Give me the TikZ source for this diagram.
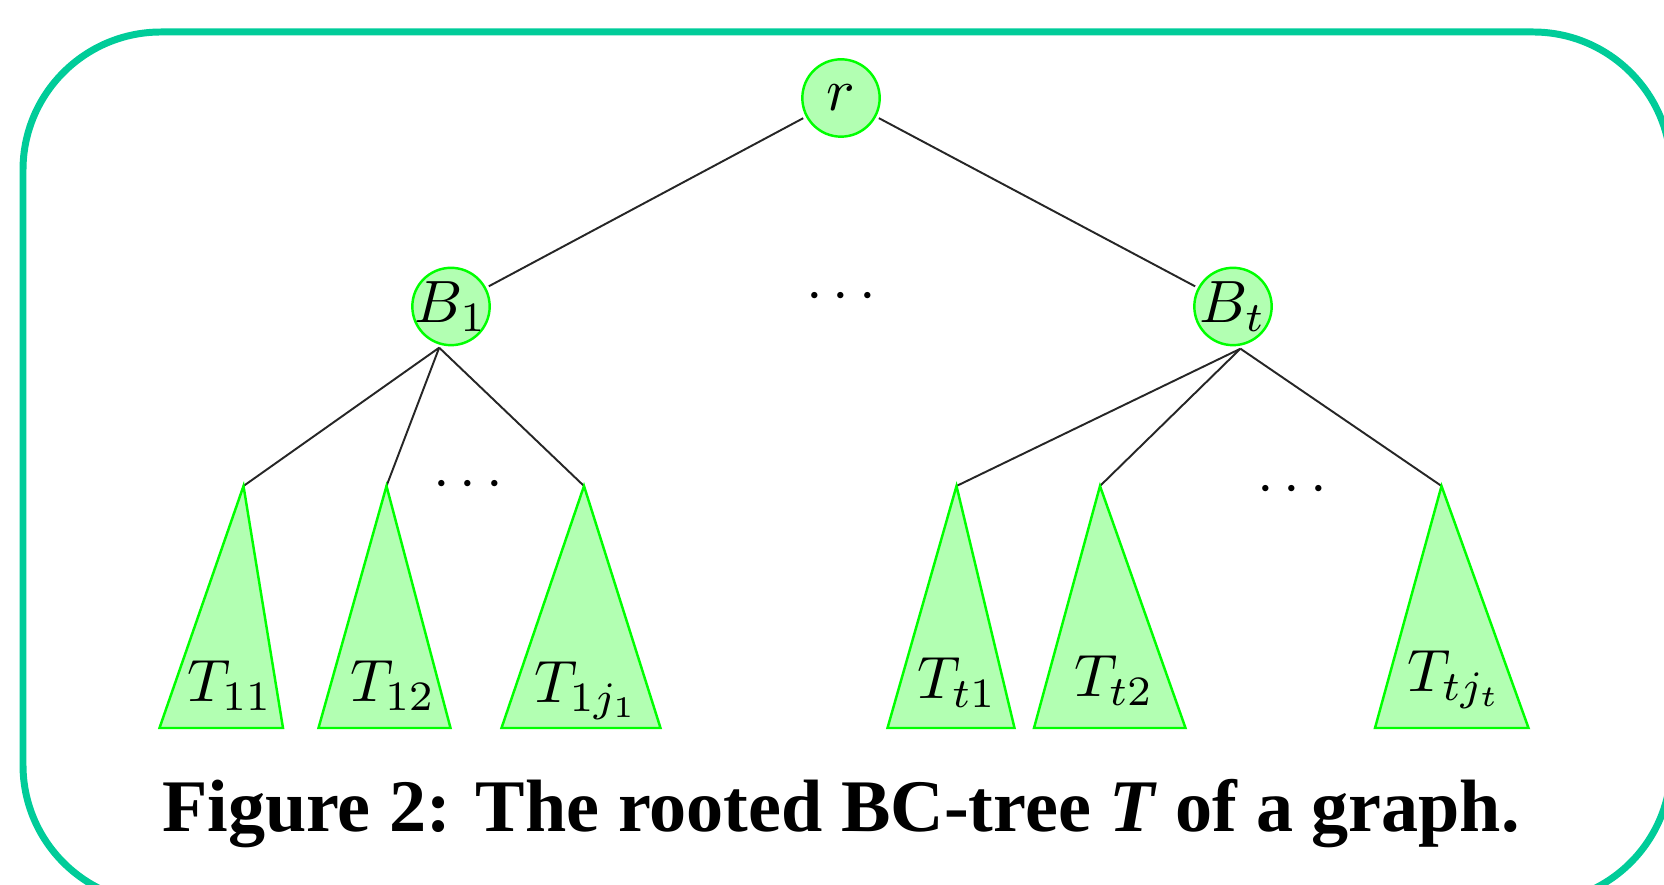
\documentclass[tikz,border=0pt]{standalone}
\usepackage{amsmath,amssymb}
\usepackage{fontspec}
\newfontfamily\capfont{Liberation Serif}
\definecolor{framegreen}{RGB}{0,204,153}
\tikzset{
	bcnode/.style={draw=green, fill=green!30, circle, line width=1.4pt, minimum size=0.455cm, inner sep=-0.9pt, scale=3.4},
	subtree/.style={draw=green, fill=green!30, line width=1.4pt},
	treelabel/.style={anchor=base, scale=3.4},
	treeedge/.style={line width=1.1pt, black!85},
}

\begin{document}
\begin{tikzpicture}
					\clip (0,0) rectangle (33.28,17.7);
					%frame
					\draw [framegreen, line width=3.97pt, rounded corners=2.76cm] (0.46,-0.36) rectangle (33.42,17.06);
					
					%root and blocks
					\node [bcnode] (r) at (16.82,15.74) {$r$};
					\node [bcnode] (B1) at (9.02,11.57) {$B_1$};
					\node [bcnode] (Bt) at (24.66,11.57) {$B_t$};
					\node [treelabel] (dotsB) at (16.92,11.48) {$\cdots$};
					
					%apexes of the subtrees
					\coordinate (t11) at (4.87,7.98);
					\coordinate (t12) at (7.73,7.98);
					\coordinate (t1j) at (11.68,7.98);
					\coordinate (tt1) at (19.13,7.98);
					\coordinate (tt2) at (22.00,7.98);
					\coordinate (ttj) at (28.83,7.98);
					
					%edges
					\draw [treeedge] (r) -- (B1);
					\draw [treeedge] (r) -- (Bt);
					\foreach \c in {t11,t12,t1j}
						\draw [treeedge] (B1.-106) -- (\c);
					\foreach \c in {tt1,tt2,ttj}
						\draw [treeedge] (Bt.-80) -- (\c);
					
					%subtrees
					\filldraw [subtree] (t11) -- (3.19,3.14) -- (5.66,3.14) -- cycle;
					\filldraw [subtree] (t12) -- (6.37,3.14) -- (9.01,3.14) -- cycle;
					\filldraw [subtree] (t1j) -- (10.03,3.14) -- (13.21,3.14) -- cycle;
					\filldraw [subtree] (tt1) -- (17.75,3.14) -- (20.29,3.14) -- cycle;
					\filldraw [subtree] (tt2) -- (20.68,3.14) -- (23.71,3.14) -- cycle;
					\filldraw [subtree] (ttj) -- (27.50,3.14) -- (30.57,3.14) -- cycle;
					
					%labels
					\node [treelabel] (L11) at (4.60,3.66) {$T_{11}$};
					\node [treelabel] (L12) at (7.86,3.66) {$T_{12}$};
					\node [treelabel] (L1j) at (11.74,3.64) {$T_{1j_1}$};
					\node [treelabel] (Lt1) at (19.14,3.72) {$T_{t1}$};
					\node [treelabel] (Lt2) at (22.28,3.76) {$T_{t2}$};
					\node [treelabel] (Ltj) at (29.10,3.86) {$T_{tj_t}$};
					\node [treelabel] (dots1) at (9.46,7.72) {$\cdots$};
					\node [treelabel] (dotst) at (25.94,7.62) {$\cdots$};
					
					%caption
					\node [anchor=base, font=\capfont\bfseries\fontsize{42.2}{48}\selectfont] (caption) at (16.82,1.06) {Figure 2: The rooted BC-tree \textit{T} of a graph.};
				\end{tikzpicture}
\end{document}
